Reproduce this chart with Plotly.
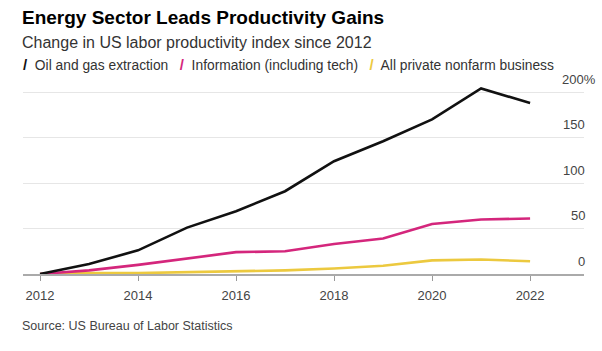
import plotly.graph_objects as go

years = [2012, 2013, 2014, 2015, 2016, 2017, 2018, 2019, 2020, 2021, 2022]
oil_gas = [0, 11, 26, 51, 69, 91, 124, 146, 170, 204, 188]
information = [0, 4, 10, 17, 24, 25, 33, 39, 55, 60, 61]
nonfarm = [0, 1, 1, 2, 3, 4, 6, 9, 15, 16, 14]

series_names = ["Oil and gas extraction", "Information (including tech)", "All private nonfarm business"]
series_values = [oil_gas, information, nonfarm]
series_colors = ["#111111", "#d4267c", "#ecc93f"]

x_ticks = [2012, 2014, 2016, 2018, 2020, 2022]
y_ticks = [0, 50, 100, 150, 200]
y_tick_labels = ["0", "50", "100", "150", "200%"]

W, H = 602, 351
L, R, T, B = 23, 18, 83, 77
plot_h = H - T - B
FONT = "Liberation Sans, Arial, Helvetica, sans-serif"


def py(pix):
    return (H - B - pix) / plot_h


fig = go.Figure()
for name, vals, col in zip(series_names, series_values, series_colors):
    fig.add_trace(go.Scatter(x=years, y=vals, mode="lines", name=name,
                             line=dict(color=col, width=2.6), cliponaxis=False,
                             showlegend=False))

# draw order: black on top
fig.data = tuple(reversed(fig.data))

annotations = []
annotations.append(dict(text="<b>Energy Sector Leads Productivity Gains</b>", xref="paper", yref="paper",
                        x=0, xshift=-3, y=py(18), xanchor="left", yanchor="middle", showarrow=False,
                        font=dict(family=FONT, size=19, color="#000000")))
annotations.append(dict(text="Change in US labor productivity index since 2012", xref="paper", yref="paper",
                        x=0, xshift=-3, y=py(42), xanchor="left", yanchor="middle", showarrow=False,
                        font=dict(family=FONT, size=16, color="#333333")))
legend_parts = []
for name, col in zip(series_names, series_colors):
    legend_parts.append(f"<span style='color:{col};font-size:15px'><b>/</b></span>  {name}")
annotations.append(dict(text="   ".join(legend_parts), xref="paper", yref="paper",
                        x=0, xshift=-2, y=py(64), xanchor="left", yanchor="middle", showarrow=False,
                        font=dict(family=FONT, size=13.8, color="#333333")))
annotations.append(dict(text="Source: US Bureau of Labor Statistics", xref="paper", yref="paper",
                        x=0, xshift=-3, y=py(326), xanchor="left", yanchor="middle", showarrow=False,
                        font=dict(family=FONT, size=12.5, color="#444444")))
for v, lab in zip(y_ticks, y_tick_labels):
    shift = 3 + (11 if lab.endswith("%") else 0)
    annotations.append(dict(text=lab, xref="paper", yref="y", x=1, y=v, yshift=13, xshift=shift,
                            xanchor="right", yanchor="middle", showarrow=False,
                            font=dict(family=FONT, size=13, color="#444444")))

fig.update_layout(
    width=W, height=H,
    margin=dict(l=L, r=R, t=T, b=B),
    paper_bgcolor="white", plot_bgcolor="white",
    annotations=annotations,
    xaxis=dict(range=[2011.653, 2023.10], tickvals=x_ticks, ticks="outside", ticklen=5,
               tickcolor="#999999", tickwidth=1.2, showline=True, linecolor="#aaaaaa",
               linewidth=1.5, showgrid=False, zeroline=False, ticklabelstandoff=4,
               tickfont=dict(family=FONT, size=13, color="#444444")),
    yaxis=dict(range=[0, 210], tickvals=y_ticks, showticklabels=False, showgrid=True,
               gridcolor="#e6e6e6", gridwidth=1, zeroline=False, showline=False),
)

fig.write_html("out.html")
